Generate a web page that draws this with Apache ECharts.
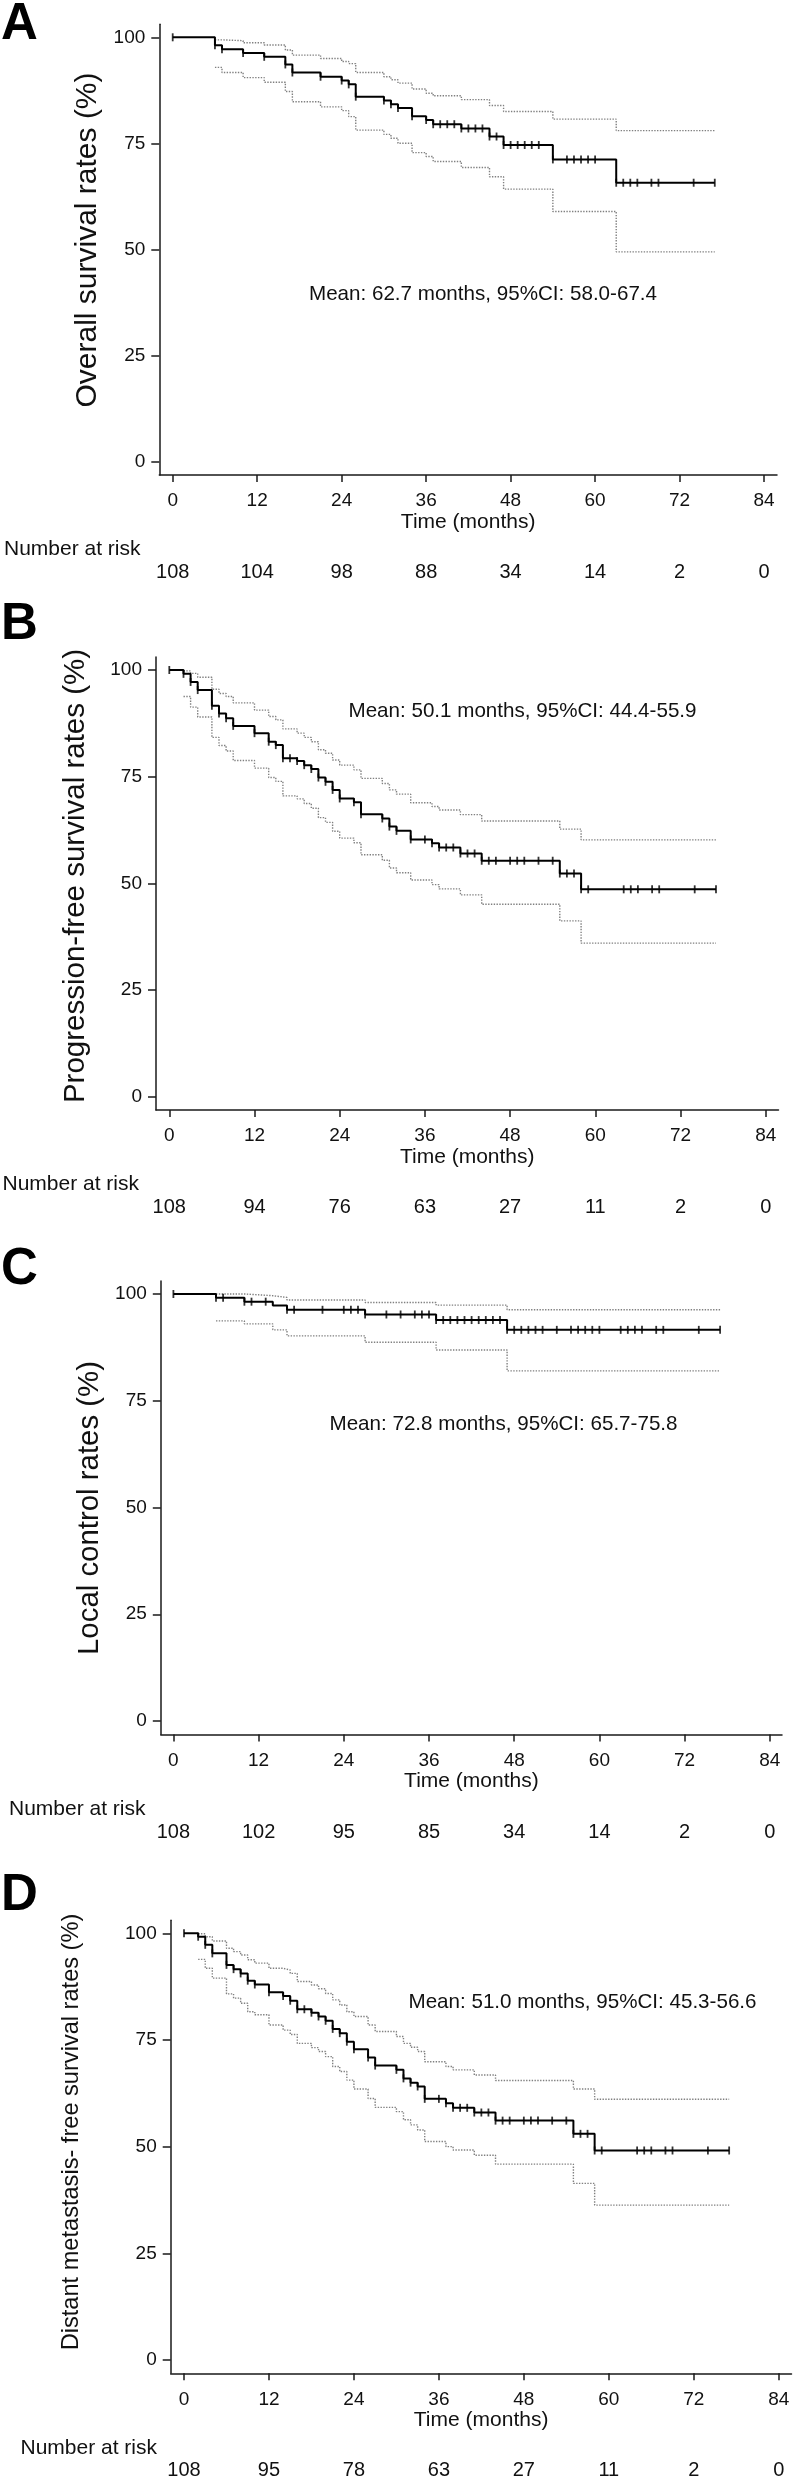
<!DOCTYPE html>
<html><head><meta charset="utf-8">
<script src="https://cdn.jsdelivr.net/npm/echarts@6/dist/echarts.min.js"></script>
<style>html,body{margin:0;padding:0;background:#fff}#c{width:796px;height:2481px}</style>
</head><body><div id="c"></div>
<script>
// ---------- shared ticks ----------
const xTicks = [0, 12, 24, 36, 48, 60, 72, 84];
const yTicks = [0, 25, 50, 75, 100];
const followUpEnd = 77;

// ---------- A: Overall survival ----------
const osTimes = [0, 6, 7, 10, 13, 16, 17, 21, 24, 25, 26, 30, 31, 32, 34, 36, 37, 41, 45, 47, 54, 63];
const osSurv  = [100, 98.1, 97.2, 96.3, 95.4, 93.6, 91.7, 90.7, 89.8, 88.9, 86.0, 85.1, 84.2, 83.3, 81.4, 80.5, 79.5, 78.5, 76.6, 74.6, 71.2, 65.7];
const osUpper = [99.4, 99.2, 98.7, 98.2, 97.0, 95.8, 95.0, 94.3, 93.8, 91.7, 90.7, 90.0, 89.2, 87.8, 86.8, 86.2, 85.3, 83.9, 82.5, 80.7, 78.0];
const osLower = [92.9, 91.7, 90.5, 89.4, 87.2, 84.8, 83.6, 82.7, 81.3, 78.1, 77.1, 76.2, 75.0, 72.8, 71.9, 70.7, 69.3, 67.1, 64.2, 58.9, 49.4];
const osCensor = [0, 6, 7, 10, 13, 16, 17, 21, 24, 25, 26, 30, 31, 32, 34, 36, 37, 38, 39, 40, 41, 42, 43, 44, 45, 46, 47, 48, 49, 50, 51, 52, 54, 56, 57, 58, 59, 60, 63, 64, 65, 66, 68, 69, 74, 77];
const osAtRisk = [108, 104, 98, 88, 34, 14, 2, 0];

// ---------- B: Progression-free survival ----------
const pfsTimes = [0, 2, 3, 4, 6, 7, 8, 9, 12, 14, 15, 16, 18, 19, 20, 21, 22, 23, 24, 26, 27, 30, 31, 32, 34, 37, 38, 41, 44, 55, 58];
const pfsSurv  = [100, 99.1, 97.2, 95.3, 91.6, 89.8, 88.7, 86.9, 85.2, 83.2, 82.4, 79.3, 78.7, 77.7, 76.8, 74.8, 73.8, 71.9, 69.9, 69.0, 66.2, 65.2, 63.3, 62.3, 60.3, 59.4, 58.4, 57.0, 55.3, 52.3, 48.6];
const pfsUpper = [99.8, 99.2, 98.3, 95.5, 94.5, 93.8, 92.3, 90.6, 89.1, 88.3, 86.2, 85.2, 84.2, 83.2, 81.3, 80.5, 78.9, 77.7, 76.6, 74.6, 73.4, 71.9, 70.9, 68.9, 68.0, 67.2, 66.1, 64.6, 62.7, 60.2];
const pfsLower = [93.8, 91.3, 89.0, 84.2, 82.3, 81.0, 78.8, 77.0, 74.8, 73.9, 70.5, 69.8, 68.7, 67.6, 65.4, 64.3, 62.2, 60.6, 59.5, 56.7, 55.4, 53.6, 52.5, 50.8, 49.7, 48.7, 47.3, 45.1, 41.2, 36.0];
const pfsCensor = [0, 2, 3, 4, 6, 7, 8, 9, 12, 14, 15, 16, 17, 18, 19, 20, 21, 22, 23, 24, 26, 27, 30, 31, 32, 34, 36, 37, 38, 39, 40, 41, 42, 43, 44, 45, 46, 48, 49, 50, 52, 54, 55, 56, 57, 58, 59, 64, 65, 66, 68, 69, 74, 77];
const pfsAtRisk = [108, 94, 76, 63, 27, 11, 2, 0];

// ---------- C: Local control ----------
const lcTimes = [0, 6, 10, 14, 16, 27, 37, 47];
const lcSurv  = [100, 99.1, 98.2, 97.3, 96.3, 95.2, 93.9, 91.6];
const lcUpper = [100, 99.6, 99.2, 98.6, 98.0, 97.4, 96.3];
const lcLower = [93.7, 93.0, 91.6, 90.2, 88.7, 86.9, 82.0];
const lcCensor = [0, 6, 7, 10, 11, 13, 16, 17, 21, 24, 25, 26, 27, 30, 32, 34, 35, 36, 37, 38, 39, 40, 41, 42, 43, 44, 45, 46, 47, 48, 49, 50, 51, 52, 54, 56, 57, 58, 59, 60, 63, 64, 65, 66, 68, 69, 74, 77];
const lcAtRisk = [108, 102, 95, 85, 34, 14, 2, 0];

// ---------- D: Distant metastasis-free survival ----------
const dmTimes = [0, 2, 3, 4, 6, 7, 8, 9, 10, 12, 14, 15, 16, 18, 19, 20, 21, 22, 23, 24, 26, 27, 30, 31, 32, 33, 34, 37, 38, 41, 44, 55, 58];
const dmSurv  = [100, 99.2, 97.3, 95.3, 92.6, 91.6, 90.6, 88.9, 88.0, 86.2, 85.3, 84.2, 82.2, 81.4, 80.5, 79.5, 77.6, 76.6, 74.6, 72.8, 70.9, 69.0, 68.0, 66.0, 65.0, 64.1, 61.2, 60.2, 59.1, 58.0, 56.1, 53.0, 49.1];
const dmUpper = [99.9, 99.2, 98.2, 96.5, 95.7, 94.9, 93.8, 93.0, 91.8, 91.4, 90.6, 88.7, 87.9, 87.0, 85.9, 84.4, 83.2, 81.6, 80.5, 78.5, 77.0, 75.8, 74.2, 73.3, 72.3, 69.9, 68.8, 68.0, 66.8, 65.5, 63.5, 61.1];
const dmLower = [93.9, 91.8, 89.5, 85.8, 84.8, 83.6, 81.6, 80.9, 78.5, 77.3, 76.3, 74.2, 73.2, 72.3, 71.1, 68.8, 67.6, 65.6, 63.5, 61.3, 59.2, 58.2, 56.3, 55.1, 53.9, 51.2, 50.0, 49.2, 48.0, 45.9, 41.4, 36.3];
const dmCensor = [0, 2, 3, 4, 6, 7, 8, 9, 10, 12, 14, 15, 16, 17, 18, 19, 20, 21, 22, 23, 24, 26, 27, 30, 31, 32, 33, 34, 36, 37, 38, 39, 40, 41, 42, 43, 44, 45, 46, 48, 49, 50, 52, 54, 55, 56, 57, 58, 59, 64, 65, 66, 68, 69, 74, 77];
const dmAtRisk = [108, 95, 78, 63, 27, 11, 2, 0];

// ---------- texts ----------
const panelLetters = ['A', 'B', 'C', 'D'];
const yTitles = ['Overall survival rates (%)', 'Progression-free survival rates (%)', 'Local control rates (%)', 'Distant metastasis- free survival rates (%)'];
const meanTexts = ['Mean: 62.7 months, 95%CI: 58.0-67.4', 'Mean: 50.1 months, 95%CI: 44.4-55.9', 'Mean: 72.8 months, 95%CI: 65.7-75.8', 'Mean: 51.0 months, 95%CI: 45.3-56.6'];
const xTitle = 'Time (months)';
const riskTitle = 'Number at risk';

// ---------- layout (pixel geometry, not data) ----------
const FONT = "'Liberation Sans', Arial, Helvetica, sans-serif";
const layouts = [
  {axisX:159.3, x0:172.7, pxm:7.04, y100:37.3,   pxp:4.24,  axisTop:24.3,   axisY:475,    right:777,
   letterY:25,   titleX:88, titleY:240,  titleSize:30,   meanX:309, meanY:294.5, riskX:4},
  {axisX:156,   x0:169.3, pxm:7.10, y100:670,    pxp:4.267, axisTop:657,    axisY:1110,   right:778.5,
   letterY:624.5, titleX:76, titleY:876, titleSize:29.5, meanX:348.5, meanY:711.7, riskX:2.5},
  {axisX:160.8, x0:173.4, pxm:7.10, y100:1294,   pxp:4.27,  axisTop:1281,   axisY:1734.5, right:782,
   letterY:1269.5, titleX:90, titleY:1508, titleSize:29.4, meanX:329.5, meanY:1424.4, riskX:9},
  {axisX:170.7, x0:184,   pxm:7.08, y100:1933.3, pxp:4.267, axisTop:1920.3, axisY:2373.3, right:791.5,
   letterY:1896, titleX:71, titleY:2132, titleSize:23.6, meanX:408.5, meanY:2002.3, riskX:20.5}
];

const panels = [
  {t: osTimes,  s: osSurv,  u: osUpper,  l: osLower,  c: osCensor,  r: osAtRisk},
  {t: pfsTimes, s: pfsSurv, u: pfsUpper, l: pfsLower, c: pfsCensor, r: pfsAtRisk},
  {t: lcTimes,  s: lcSurv,  u: lcUpper,  l: lcLower,  c: lcCensor,  r: lcAtRisk},
  {t: dmTimes,  s: dmSurv,  u: dmUpper,  l: dmLower,  c: dmCensor,  r: dmAtRisk}
];

function stepData(times, vals) {
  const d = times.map((t, i) => [t, vals[i]]);
  d.push([followUpEnd, vals[vals.length - 1]]);
  return d;
}
function kmAt(times, vals, t) {
  let v = vals[0];
  for (let i = 0; i < times.length; i++) if (times[i] <= t) v = vals[i];
  return v;
}

const AX = '#1a1a1a';
const grids = [], xAxes = [], yAxes = [], series = [], graphics = [];

panels.forEach((p, i) => {
  const L = layouts[i];
  const y0 = L.y100 + 100 * L.pxp;
  const xmin = -(L.x0 - L.axisX) / L.pxm;
  const xmax = (L.right - L.x0) / L.pxm;
  const ymax = 100 + (L.y100 - L.axisTop) / L.pxp;
  const ymin = -(L.axisY - y0) / L.pxp;

  grids.push({left: L.axisX, top: L.axisTop, width: L.right - L.axisX, height: L.axisY - L.axisTop, containLabel: false});

  xAxes.push({
    type: 'value', gridIndex: i, min: xmin, max: xmax, position: 'bottom',
    axisLine: {show: true, onZero: false, lineStyle: {color: AX, width: 1.5}},
    axisTick: {show: true, customValues: xTicks, length: 7, lineStyle: {color: AX, width: 1.5}},
    axisLabel: {customValues: xTicks, fontSize: 19, fontFamily: FONT, color: '#111', margin: 26, verticalAlign: 'middle'},
    splitLine: {show: false},
    name: xTitle, nameLocation: 'middle', nameGap: 46,
    nameTextStyle: {fontSize: 21, fontFamily: FONT, color: '#111', verticalAlign: 'middle'}
  });
  xAxes.push({
    type: 'value', gridIndex: i, min: xmin, max: xmax, position: 'bottom',
    axisLine: {show: false}, axisTick: {show: false}, splitLine: {show: false},
    axisLabel: {customValues: xTicks, fontSize: 20, fontFamily: FONT, color: '#111', margin: 97.5, verticalAlign: 'middle',
      formatter: v => String(p.r[Math.round(v / 12)])}
  });
  yAxes.push({
    type: 'value', gridIndex: i, min: ymin, max: ymax,
    axisLine: {show: true, onZero: false, lineStyle: {color: AX, width: 1.5}},
    axisTick: {show: true, customValues: yTicks, length: 8, lineStyle: {color: AX, width: 1.5}},
    axisLabel: {customValues: yTicks, fontSize: 19, fontFamily: FONT, color: '#111', margin: 14},
    splitLine: {show: false}
  });

  const ciStyle = {color: '#808080', width: 1.4, type: [1.4, 1.4]};
  series.push({type: 'line', step: 'end', xAxisIndex: 2 * i, yAxisIndex: i, symbol: 'none', silent: true,
    lineStyle: ciStyle, data: stepData(p.t.slice(1), p.u), z: 2});
  series.push({type: 'line', step: 'end', xAxisIndex: 2 * i, yAxisIndex: i, symbol: 'none', silent: true,
    lineStyle: ciStyle, data: stepData(p.t.slice(1), p.l), z: 2});
  series.push({type: 'line', step: 'end', xAxisIndex: 2 * i, yAxisIndex: i, symbol: 'none', silent: true,
    lineStyle: {color: '#000', width: 2}, data: stepData(p.t, p.s), z: 3});
  series.push({type: 'scatter', xAxisIndex: 2 * i, yAxisIndex: i, symbol: 'rect', symbolSize: [1.8, 8], silent: true,
    itemStyle: {color: '#000'}, data: p.c.map(t => [t, kmAt(p.t, p.s, t)]), z: 4});

  graphics.push({type: 'text', x: 1, y: L.letterY,
    style: {text: panelLetters[i], font: 'bold 51px ' + FONT, fill: '#000', textAlign: 'left', textVerticalAlign: 'middle', align: 'left', verticalAlign: 'middle'}});
  graphics.push({type: 'text', x: L.titleX, y: L.titleY, rotation: Math.PI / 2,
    style: {text: yTitles[i], font: L.titleSize + 'px ' + FONT, fill: '#111', textAlign: 'center', textVerticalAlign: 'middle', align: 'center', verticalAlign: 'middle'}});
  graphics.push({type: 'text', x: L.meanX, y: L.meanY,
    style: {text: meanTexts[i], font: '20.6px ' + FONT, fill: '#111', textAlign: 'left', textVerticalAlign: 'middle', align: 'left', verticalAlign: 'middle'}});
  graphics.push({type: 'text', x: L.riskX, y: L.axisY + 74.5,
    style: {text: riskTitle, font: '21px ' + FONT, fill: '#111', textAlign: 'left', textVerticalAlign: 'middle', align: 'left', verticalAlign: 'middle'}});
});

const chart = echarts.init(document.getElementById('c'), null, {renderer: 'canvas', width: 796, height: 2481});
chart.setOption({
  animation: false,
  backgroundColor: '#fff',
  grid: grids, xAxis: xAxes, yAxis: yAxes, series: series,
  graphic: {elements: graphics}
});
</script>
</body></html>
